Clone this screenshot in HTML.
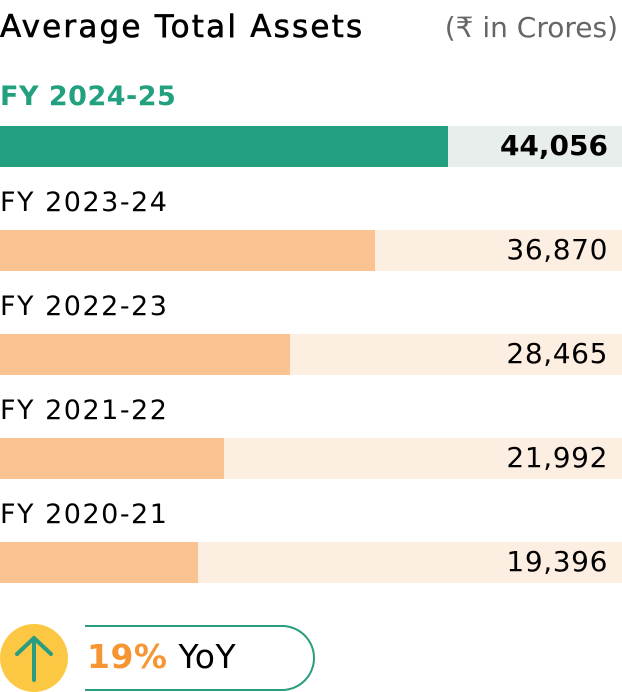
<!DOCTYPE html>
<html><head><style>
body{margin:0;width:622px;height:692px;background:#fff;font-family:"DejaVu Sans","Liberation Sans",sans-serif;position:relative;overflow:hidden;color:#000}
.a{position:absolute;white-space:nowrap}
.bg{position:absolute;left:0;width:622px;height:41px}
.bar{position:absolute;left:0;height:41px}
.lab{font-size:27px;letter-spacing:1.5px}
.num{font-size:28px;right:14px;letter-spacing:0.6px}
</style></head><body>
<div class="a" style="left:0;top:9px;font-size:31px;letter-spacing:2.2px;-webkit-text-stroke:0.6px #000">Average Total Assets</div>
<div class="a" style="right:4px;top:11px;font-size:28px;color:#666">(₹ in Crores)</div>

<div class="a" style="left:0;top:81px;font-size:27px;font-weight:bold;color:#22a07f;letter-spacing:0.5px">FY 2024-25</div>
<div class="bg" style="top:126px;background:#e7eeec"></div>
<div class="bar" style="top:126px;width:448px;background:#22a07f"></div>
<div class="a num" style="top:129px;font-weight:bold;letter-spacing:0">44,056</div>

<div class="a lab" style="left:0;top:187px">FY 2023-24</div>
<div class="bg" style="top:230px;background:#fdeee2"></div>
<div class="bar" style="top:230px;width:375px;background:#fbc392"></div>
<div class="a num" style="top:233px">36,870</div>

<div class="a lab" style="left:0;top:291px">FY 2022-23</div>
<div class="bg" style="top:334px;background:#fdeee2"></div>
<div class="bar" style="top:334px;width:290px;background:#fbc392"></div>
<div class="a num" style="top:337px">28,465</div>

<div class="a lab" style="left:0;top:395px">FY 2021-22</div>
<div class="bg" style="top:438px;background:#fdeee2"></div>
<div class="bar" style="top:438px;width:224px;background:#fbc392"></div>
<div class="a num" style="top:441px">21,992</div>

<div class="a lab" style="left:0;top:499px">FY 2020-21</div>
<div class="bg" style="top:542px;background:#fdeee2"></div>
<div class="bar" style="top:542px;width:198px;background:#fbc392"></div>
<div class="a num" style="top:545px">19,396</div>

<div class="a" style="left:85px;top:625px;width:228px;height:62px;border:2.5px solid #2a9d80;border-left:none;border-radius:0 33px 33px 0"></div>
<div class="a" style="left:0;top:624px;width:68px;height:68px;border-radius:50%;background:#fcc844"></div>
<svg class="a" style="left:0;top:624px" width="68" height="68"><path d="M34 56V14M17 30L34 14L51 30" stroke="#2a9d80" stroke-width="4" fill="none" stroke-linecap="round" stroke-linejoin="round"/></svg>
<div class="a" style="left:87px;top:637px;font-size:33px;letter-spacing:0.5px"><b style="color:#f59533">19%</b> YoY</div>
</body></html>
